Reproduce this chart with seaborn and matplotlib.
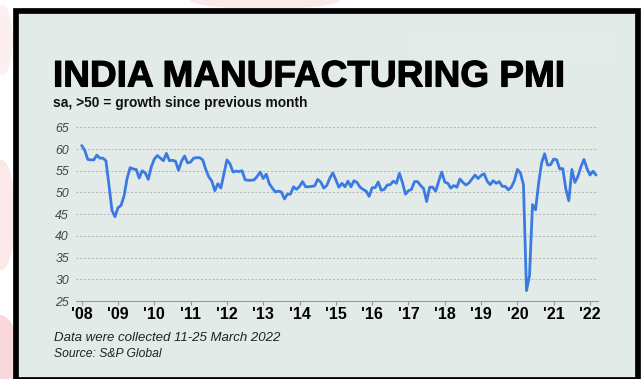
import numpy as np
import pandas as pd
import matplotlib
matplotlib.use("Agg")
import matplotlib.pyplot as plt
import matplotlib.patheffects as pe
import seaborn as sns
from matplotlib.patches import Rectangle, Ellipse

# ---------------- data (monthly, Jan 2008 - Mar 2022) ----------------
pmi_2008 = [60.8, 59.7, 57.6, 57.5, 57.5, 58.6, 57.9, 57.9, 57.3, 51.8, 45.9, 44.4]
pmi_2009 = [46.5, 47.0, 49.2, 53.2, 55.7, 55.4, 55.3, 53.3, 55.0, 54.5, 53.0, 55.9]
pmi_2010 = [57.7, 58.5, 57.9, 57.3, 59.0, 57.3, 57.4, 57.2, 55.1, 57.2, 58.4, 56.8]
pmi_2011 = [57.0, 57.9, 58.0, 58.0, 57.5, 55.3, 53.6, 52.6, 50.4, 52.0, 51.0, 54.2]
pmi_2012 = [57.5, 56.6, 54.7, 54.9, 54.8, 55.0, 52.9, 52.8, 52.8, 52.9, 53.7, 54.7]
pmi_2013 = [53.2, 54.2, 52.0, 51.0, 50.1, 50.3, 50.1, 48.5, 49.6, 49.6, 51.3, 50.7]
pmi_2014 = [51.4, 52.5, 51.3, 51.3, 51.4, 51.5, 53.0, 52.4, 51.0, 51.6, 53.3, 54.5]
pmi_2015 = [52.9, 51.2, 52.1, 51.3, 52.6, 51.3, 52.7, 52.3, 51.2, 50.7, 50.3, 49.1]
pmi_2016 = [51.1, 51.1, 52.4, 50.5, 50.7, 51.7, 51.8, 52.6, 52.1, 54.4, 52.3, 49.6]
pmi_2017 = [50.4, 50.7, 52.5, 52.5, 51.6, 50.9, 47.9, 51.2, 51.2, 50.3, 52.6, 54.7]
pmi_2018 = [52.4, 52.1, 51.0, 51.6, 51.2, 53.1, 52.3, 51.7, 52.2, 53.1, 54.0, 53.2]
pmi_2019 = [53.9, 54.3, 52.6, 51.8, 52.7, 52.1, 52.5, 51.4, 51.4, 50.6, 51.2, 52.7]
pmi_2020 = [55.3, 54.5, 51.8, 27.4, 30.8, 47.2, 46.0, 52.0, 56.8, 58.9, 56.3, 56.4]
pmi_2021 = [57.7, 57.5, 55.4, 55.5, 50.8, 48.1, 55.3, 52.3, 53.7, 55.9, 57.6, 55.5]
pmi_2022 = [54.0, 54.9, 54.0]

start_year = 2008
tick_years = list(range(2008, 2023))
tick_labels = ["'08", "'09", "'10", "'11", "'12", "'13", "'14", "'15",
               "'16", "'17", "'18", "'19", "'20", "'21", "'22"]
y_ticks = [25, 30, 35, 40, 45, 50, 55, 60, 65]

title = "INDIA MANUFACTURING PMI"
subtitle = "sa, >50 = growth since previous month"
footer1 = "Data were collected 11-25 March 2022"
footer2 = "Source: S&P Global"

values = (pmi_2008 + pmi_2009 + pmi_2010 + pmi_2011 + pmi_2012 + pmi_2013 +
          pmi_2014 + pmi_2015 + pmi_2016 + pmi_2017 + pmi_2018 + pmi_2019 +
          pmi_2020 + pmi_2021 + pmi_2022)
months = np.arange(len(values))
df = pd.DataFrame({"t": start_year + months / 12.0, "pmi": values})

# ---------------- style ----------------
sns.set_theme(style="white")
plt.rcParams["font.family"] = ["Liberation Sans", "DejaVu Sans"]

W, H = 641, 379
fig = plt.figure(figsize=(W / 100, H / 100), dpi=100)
fig.patch.set_facecolor("white")


def fx(px):
    return px / W


def fy(py):
    return 1 - py / H


# faint pink smudges on the white background
for cx, cy, w, h, a in [(0, 360, 40, 90, 0.5), (2, 215, 26, 110, 0.3),
                        (265, 0, 150, 18, 0.3), (2, 40, 22, 70, 0.2)]:
    fig.add_artist(Ellipse((fx(cx), fy(cy)), w / W, h / H, transform=fig.transFigure,
                           facecolor="#f2b3b8", edgecolor="none", alpha=a, zorder=-3))

# panel with thick black border
bw = 5.7
x0, y0, x1, y1 = 13 + bw / 2, 8 + bw / 2, 635.3 + bw / 2, 376.7 + bw / 2
fig.add_artist(Rectangle((fx(x0), fy(y1)), fx(x1) - fx(x0), fy(y0) - fy(y1),
                         transform=fig.transFigure, facecolor="#e2ebe8",
                         edgecolor="black", linewidth=bw * 72 / 100, zorder=-2))
# subtle lighter patch top right
fig.add_artist(Rectangle((fx(415), fy(60)), fx(610) - fx(415), fy(35) - fy(60),
                         transform=fig.transFigure, facecolor="#e4ecea",
                         edgecolor="none", zorder=-1))

# ---------------- axes ----------------
ax_l, ax_r, ax_t, ax_b = 76, 598, 127.3, 301
ax = fig.add_axes([fx(ax_l), fy(ax_b), fx(ax_r) - fx(ax_l), fy(ax_t) - fy(ax_b)])
ax.set_facecolor("none")
ax.set_zorder(2)

sns.lineplot(data=df, x="t", y="pmi", ax=ax, color="#3b7ae3", linewidth=2.0,
             zorder=3)

ax.set_xlim(2007.843, 2022.22)
ax.set_ylim(25, 65)
ax.set_yticks(y_ticks)
ax.set_yticklabels([str(v) for v in y_ticks], fontstyle="italic", color="#444444",
                   fontsize=8.8)
ax.set_xticks(tick_years)
ax.set_xticklabels(tick_labels, fontweight="bold", color="black", fontsize=11.5)
ax.set_xlabel("")
ax.set_ylabel("")

ax.yaxis.grid(True, color="#b3b3b3", linestyle=(0, (2, 2)), linewidth=0.7)
ax.xaxis.grid(False)
for s in ["left", "right", "top"]:
    ax.spines[s].set_visible(False)
ax.spines["bottom"].set_color("#9a9a9a")
ax.spines["bottom"].set_linewidth(0.8)
ax.tick_params(axis="x", direction="out", length=3, width=0.8, color="#9a9a9a",
               pad=1.5, bottom=True)
ax.tick_params(axis="y", length=0, pad=5)
for ln in ax.get_lines():
    ln.set_clip_on(False)

# ---------------- texts ----------------
renderer = fig.canvas.get_renderer()


def fit_text(x, y, s, target_w, size, **kw):
    t = fig.text(fx(x), fy(y), s, fontsize=size, va="baseline", ha="left", **kw)
    bb = t.get_window_extent(renderer)
    t.set_fontsize(size * target_w / bb.width)
    return t


t_title = fit_text(53, 86.5, title, 511, 26, fontweight="bold", color="black")
t_title.set_path_effects([pe.withStroke(linewidth=0.8, foreground="black")])
fit_text(53, 107, subtitle, 253, 9.5, fontweight="bold", color="#111111")
fit_text(54, 341, footer1, 228, 9, fontstyle="italic", color="#222222")
fit_text(54, 357, footer2, 108, 9, fontstyle="italic", color="#222222")

fig.savefig("out.png", dpi=100)
